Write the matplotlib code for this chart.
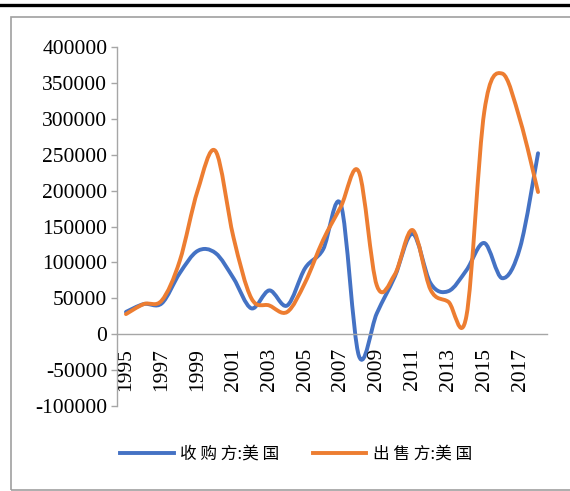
import matplotlib.pyplot as plt
import numpy as np
from matplotlib.lines import Line2D
from matplotlib.patches import PathPatch, Rectangle
from matplotlib.path import Path

years = list(range(1995, 2019))
buyer_us = [31000, 42000, 43000, 85000, 116000, 113000, 78000, 36000, 61000, 40000,
            92000, 118000, 180000, -30000, 29000, 80000, 140000, 71000, 60000, 89000,
            127000, 78000, 121000, 252000]
seller_us = [28000, 42000, 47000, 102000, 200000, 255000, 135000, 50000, 40000, 31000,
             72000, 131000, 178000, 226000, 68000, 83000, 145000, 62000, 45000, 25000,
             310000, 363000, 298000, 198000]
series_names = ["收 购 方:美 国", "出 售 方:美 国"]
colors = ["#4472C4", "#ED7D31"]
tick_years = [str(y) for y in years[::2]]


def smooth_path(xs, ys):
    # excel style smoothed line: cubic bezier through every point
    pts = np.column_stack([xs, ys]).astype(float)
    n = len(pts)
    verts = [pts[0]]
    codes = [Path.MOVETO]
    for i in range(n - 1):
        p0 = pts[max(i - 1, 0)]
        p1 = pts[i]
        p2 = pts[i + 1]
        p3 = pts[min(i + 2, n - 1)]
        c1 = p1 + (p2 - p0) / 6
        c2 = p2 - (p3 - p1) / 6
        verts += [c1, c2, p2]
        codes += [Path.CURVE4] * 3
    return Path(verts, codes)


plt.rcParams["font.family"] = ["Liberation Serif", "DejaVu Serif"]
fig = plt.figure(figsize=(5.7, 4.91), dpi=100)
ax = fig.add_axes([117 / 570, 1 - 406 / 491, 430 / 570, 359 / 491])

x = np.arange(len(years))
handles = []
for vals, col, name in zip([buyer_us, seller_us], colors, series_names):
    ax.add_patch(PathPatch(smooth_path(x, vals), facecolor="none", edgecolor=col,
                           lw=2.8, capstyle="round", joinstyle="round"))
    handles.append(Line2D([], [], color=col, lw=2.8, label=name))

ax.set_xlim(-0.5, len(years) - 0.5)
ax.set_ylim(-100000, 400000)
ax.set_yticks(np.arange(-100000, 400001, 50000))
ax.set_yticklabels([str(v) for v in range(-100000, 400001, 50000)])
ax.set_xticks(x[::2])
ax.set_xticklabels(tick_years)

axis_gray = "#A6A6A6"
for side in ["top", "right"]:
    ax.spines[side].set_visible(False)
ax.spines["bottom"].set_position(("data", 0))
ax.spines["bottom"].set_color(axis_gray)
ax.spines["left"].set_color(axis_gray)
ax.spines["bottom"].set_linewidth(1.0)
ax.spines["left"].set_linewidth(1.0)
ax.tick_params(axis="y", length=4, width=1.0, color=axis_gray, labelsize=15.5, pad=3)
ax.tick_params(axis="x", length=0, labelsize=15.5, pad=10, labelrotation=90)
ax.patch.set_alpha(0)

fig.legend(handles=handles, loc="center", bbox_to_anchor=(296 / 570, 1 - 454 / 491),
           ncol=2, frameon=False, handlelength=3.2, handletextpad=0.4, columnspacing=2.0,
           prop={"family": ["Noto Sans CJK SC", "DejaVu Sans"], "size": 12})

# outer frame and top rule
fig.add_artist(Rectangle((11 / 570, 1 - 490 / 491), 1.0, (490 - 17) / 491,
                         transform=fig.transFigure, fill=False, edgecolor="#A0A0A0", lw=1.2))
fig.add_artist(Line2D([0, 1], [1 - 5 / 491, 1 - 5 / 491], transform=fig.transFigure,
                      color="black", lw=2.4))

fig.savefig("out.png", dpi=100)
plt.close(fig)
